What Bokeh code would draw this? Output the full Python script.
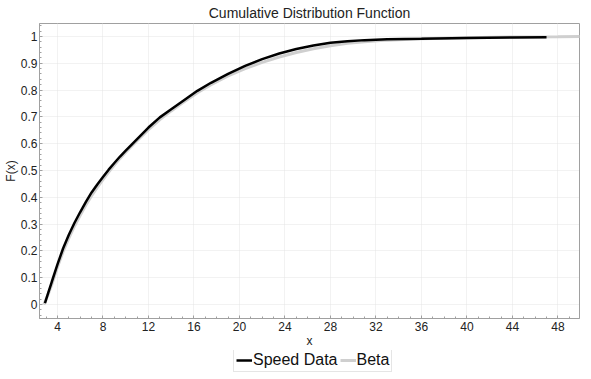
from bokeh.plotting import figure
from bokeh.layouts import column
from bokeh.models import FixedTicker, Range1d, Legend, LegendItem
from bokeh.embed import file_html
from bokeh.resources import INLINE

# Empirical CDF of the speed data (black)
speed_x = [2.9, 3.2, 3.5, 4.0, 4.5, 5.0, 5.5, 6.0, 6.5, 7.0, 7.5, 8.0, 8.5, 9.0, 9.5, 10.0,
           11.0, 12.0, 13.0, 14.0, 15.0, 16.3, 17.5, 19.0, 20.5, 22.0, 23.5, 25.0, 26.5,
           28.0, 29.5, 31.0, 33.0, 36.0, 40.0, 44.0, 47.0]
speed_f = [0.005, 0.045, 0.085, 0.15, 0.21, 0.26, 0.305, 0.345, 0.383, 0.418, 0.448, 0.476, 0.503, 0.528, 0.552, 0.574,
           0.617, 0.66, 0.698, 0.728, 0.758, 0.797, 0.827, 0.86, 0.89, 0.915, 0.936, 0.953, 0.966,
           0.976, 0.982, 0.986, 0.989, 0.991, 0.994, 0.996, 0.997]

# Fitted Beta CDF (light gray)
beta_x = [2.8, 3.2, 3.5, 4.0, 4.5, 5.0, 5.5, 6.0, 6.5, 7.0, 7.5, 8.0, 8.5, 9.0, 9.5, 10.0,
          11.0, 12.0, 13.0, 14.0, 15.0, 16.3, 17.5, 19.0, 20.5, 22.0, 23.5, 25.0, 26.5,
          28.0, 29.5, 31.0, 33.0, 36.0, 40.0, 44.0, 48.0, 50.0]
beta_f = [0.0, 0.04, 0.075, 0.14, 0.198, 0.248, 0.293, 0.333, 0.371, 0.406, 0.437, 0.466, 0.494, 0.52, 0.545, 0.568,
          0.611, 0.652, 0.69, 0.722, 0.752, 0.79, 0.82, 0.853, 0.88, 0.903, 0.923, 0.94, 0.954,
          0.965, 0.974, 0.98, 0.986, 0.991, 0.995, 0.998, 0.999, 1.0]

series_names = ["Speed Data", "Beta"]
x_ticks = [4, 8, 12, 16, 20, 24, 28, 32, 36, 40, 44, 48]
y_ticks = [0, 0.1, 0.2, 0.3, 0.4, 0.5, 0.6, 0.7, 0.8, 0.9, 1.0]
y_tick_labels = ["0", "0.1", "0.2", "0.3", "0.4", "0.5", "0.6", "0.7", "0.8", "0.9", "1"]

FONT = "Liberation Sans"
AX = "#a0a0a0"
SPEED_COLOR = "#000000"
BETA_COLOR = "#cfcfcf"

p = figure(frame_width=540, frame_height=295, output_backend="svg", toolbar_location=None,
           title="Cumulative Distribution Function",
           x_range=Range1d(2.42, 49.9), y_range=Range1d(-0.052, 1.048),
           min_border_left=34, min_border_right=1, min_border_bottom=0, min_border_top=0)

p.title.align = "center"
p.title.text_font = FONT
p.title.text_font_size = "14px"
p.title.text_font_style = "normal"
p.title.text_color = "#222222"
p.title.standoff = 5

p.outline_line_color = AX
p.outline_line_width = 1

for ax in (p.xaxis[0], p.yaxis[0]):
    ax.axis_line_color = AX
    ax.major_tick_line_color = AX
    ax.minor_tick_line_color = AX
    ax.major_tick_out = 0
    ax.major_tick_in = 3
    ax.minor_tick_out = 0
    ax.minor_tick_in = 2
    ax.major_label_text_font = FONT
    ax.major_label_text_font_size = "12px"
    ax.major_label_text_color = "#222222"
    ax.axis_label_text_font = FONT
    ax.axis_label_text_font_size = "12px"
    ax.axis_label_text_font_style = "normal"
    ax.axis_label_text_color = "#222222"

p.xaxis.ticker = FixedTicker(ticks=x_ticks,
                             minor_ticks=[v for v in range(3, 50)])
p.yaxis.ticker = FixedTicker(ticks=y_ticks,
                             minor_ticks=[i / 50 for i in range(-2, 53)])
p.yaxis.major_label_overrides = {v: s for v, s in zip(y_ticks, y_tick_labels)}
p.xaxis.major_label_standoff = 3
p.yaxis.major_label_standoff = 2
p.xaxis.axis_label = "x"
p.yaxis.axis_label = "F(x)"
p.xaxis.axis_label_standoff = 0
p.yaxis.axis_label_standoff = 0

p.xgrid.ticker = FixedTicker(ticks=x_ticks)
p.ygrid.ticker = FixedTicker(ticks=y_ticks)
for g in (p.xgrid[0], p.ygrid[0]):
    g.grid_line_color = "#e4e4e4"
    g.grid_line_dash = "1 1"

p.line(beta_x, beta_f, line_color=BETA_COLOR, line_width=3)
p.line(speed_x, speed_f, line_color=SPEED_COLOR, line_width=2.5)

# Separate strip below the chart that carries the legend box
lg = figure(width=575, height=22, output_backend="svg", toolbar_location=None,
            x_range=Range1d(1000, 1001), y_range=Range1d(1000, 1001),
            min_border_left=0, min_border_right=0, min_border_top=0, min_border_bottom=0)
lg.axis.visible = False
lg.grid.visible = False
lg.outline_line_color = None
lr_speed = lg.line(speed_x, speed_f, line_color=SPEED_COLOR, line_width=2.5)
lr_beta = lg.line(beta_x, beta_f, line_color=BETA_COLOR, line_width=3)

legend = Legend(items=[LegendItem(label=series_names[0], renderers=[lr_speed]),
                       LegendItem(label=series_names[1], renderers=[lr_beta])],
                orientation="horizontal", location=(194, 0),
                label_text_font=FONT, label_text_font_size="16px",
                label_text_color="#111111", label_height=16,
                glyph_width=16, glyph_height=16, label_standoff=1, spacing=2,
                padding=2, margin=0,
                border_line_color="#cccccc", border_line_width=1,
                background_fill_alpha=1.0)
lg.add_layout(legend, "center")

layout = column(p, lg, spacing=0)

open("out.html", "w").write(file_html(layout, INLINE))
